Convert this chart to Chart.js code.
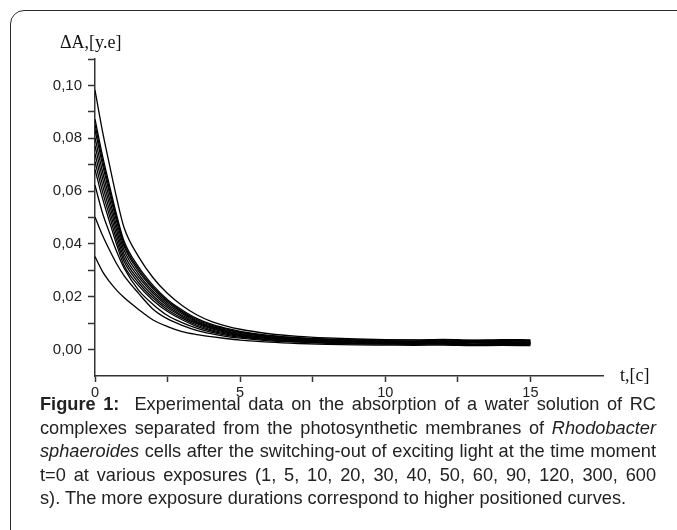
<!DOCTYPE html>
<html>
<head>
<meta charset="utf-8">
<script src="https://cdn.jsdelivr.net/npm/chart.js@4.4.1/dist/chart.umd.min.js"></script>
<style>
html, body { margin: 0; padding: 0; background: #fff; width: 677px; height: 530px; overflow: hidden; position: relative; }
#frame { position: absolute; left: 10px; top: 10px; width: 720px; height: 600px; border: 1.5px solid #2a2a2a; border-radius: 14px; }
#wrap { position: absolute; left: 0; top: 0; width: 677px; height: 400px; }
.lbl { position: absolute; font-family: "Liberation Serif", "Times New Roman", serif; font-size: 18px; color: #111; white-space: nowrap; }
#cap { position: absolute; left: 40px; top: 393px; width: 616px; font-family: "Liberation Sans", Arial, sans-serif; font-size: 18.2px; line-height: 23.5px; color: #222; }
#cap div { text-align: justify; text-align-last: justify; }
#cap div.last { text-align-last: left; }
</style>
</head>
<body>
<div id="frame"></div>
<div id="wrap"><canvas id="grafico" width="677" height="400"></canvas></div>
<div class="lbl" style="left:60px; top:32px;">ΔA,[y.e]</div>
<div class="lbl" style="left:620px; top:365px;">t,[c]</div>
<div id="cap">
  <div><b>Figure 1:</b>&nbsp; Experimental data on the absorption of a water solution of RC</div>
  <div>complexes separated from the photosynthetic membranes of <i>Rhodobacter</i></div>
  <div><i>sphaeroides</i> cells after the switching-out of exciting light at the time moment</div>
  <div>t=0 at various exposures (1, 5, 10, 20, 30, 40, 50, 60, 90, 120, 300, 600</div>
  <div class="last">s). The more exposure durations correspond to higher positioned curves.</div>
</div>
<script>
// tempo (s)
const tempos = [0, 0.25, 0.5, 0.75, 1, 1.5, 2, 2.5, 3, 3.5, 4, 4.5, 5, 6, 7, 8, 9, 10, 11, 12, 13, 14, 15];

// curvas, da mais baixa (1 s) para a mais alta (600 s)
const exp1   = [0.035, 0.0295, 0.0255, 0.0222, 0.0195, 0.0150, 0.0110, 0.0085, 0.0066, 0.0055, 0.0047, 0.0040, 0.0034, 0.0026, 0.0021, 0.0018, 0.0016, 0.0015, 0.0014, 0.0015, 0.0013, 0.0014, 0.0013];
const exp5   = [0.050, 0.0433, 0.0375, 0.0322, 0.0278, 0.0211, 0.0151, 0.0114, 0.0090, 0.0071, 0.0058, 0.0048, 0.0041, 0.0031, 0.0026, 0.0022, 0.0020, 0.0019, 0.0018, 0.0019, 0.0017, 0.0018, 0.0017];
const exp10  = [0.062, 0.0518, 0.0440, 0.0368, 0.0307, 0.0223, 0.0169, 0.0127, 0.0100, 0.0079, 0.0064, 0.0053, 0.0045, 0.0035, 0.0028, 0.0024, 0.0021, 0.0020, 0.0019, 0.0020, 0.0018, 0.0019, 0.0019];
const exp20  = [0.068, 0.0574, 0.0482, 0.0394, 0.0317, 0.0240, 0.0184, 0.0142, 0.0111, 0.0086, 0.0069, 0.0057, 0.0048, 0.0036, 0.0029, 0.0025, 0.0022, 0.0021, 0.0020, 0.0021, 0.0019, 0.0020, 0.0020];
const exp30  = [0.071, 0.0600, 0.0504, 0.0411, 0.0332, 0.0251, 0.0193, 0.0149, 0.0117, 0.0091, 0.0073, 0.0061, 0.0051, 0.0039, 0.0031, 0.0027, 0.0024, 0.0023, 0.0022, 0.0021, 0.0023, 0.0022, 0.0021];
const exp40  = [0.074, 0.0625, 0.0525, 0.0429, 0.0346, 0.0262, 0.0202, 0.0156, 0.0123, 0.0096, 0.0077, 0.0064, 0.0054, 0.0041, 0.0034, 0.0029, 0.0026, 0.0025, 0.0024, 0.0023, 0.0025, 0.0024, 0.0023];
const exp50  = [0.077, 0.0651, 0.0547, 0.0447, 0.0360, 0.0273, 0.0211, 0.0163, 0.0128, 0.0100, 0.0080, 0.0067, 0.0056, 0.0043, 0.0035, 0.0030, 0.0027, 0.0026, 0.0025, 0.0024, 0.0026, 0.0025, 0.0024];
const exp60  = [0.080, 0.0676, 0.0568, 0.0464, 0.0375, 0.0284, 0.0219, 0.0170, 0.0134, 0.0104, 0.0084, 0.0070, 0.0059, 0.0046, 0.0037, 0.0032, 0.0029, 0.0028, 0.0027, 0.0029, 0.0026, 0.0027, 0.0026];
const exp90  = [0.083, 0.0702, 0.0589, 0.0482, 0.0389, 0.0295, 0.0228, 0.0176, 0.0139, 0.0108, 0.0087, 0.0073, 0.0062, 0.0047, 0.0039, 0.0034, 0.0030, 0.0029, 0.0028, 0.0027, 0.0029, 0.0028, 0.0027];
const exp120 = [0.085, 0.0719, 0.0604, 0.0494, 0.0399, 0.0303, 0.0234, 0.0182, 0.0143, 0.0112, 0.0091, 0.0076, 0.0064, 0.0050, 0.0041, 0.0036, 0.0033, 0.0031, 0.0030, 0.0032, 0.0029, 0.0031, 0.0030];
const exp300 = [0.087, 0.0736, 0.0619, 0.0506, 0.0409, 0.0311, 0.0241, 0.0187, 0.0148, 0.0116, 0.0094, 0.0079, 0.0067, 0.0052, 0.0043, 0.0038, 0.0035, 0.0033, 0.0034, 0.0031, 0.0033, 0.0032, 0.0032];
const exp600 = [0.098, 0.0829, 0.0697, 0.0570, 0.0460, 0.0350, 0.0270, 0.0210, 0.0165, 0.0130, 0.0105, 0.0088, 0.0075, 0.0058, 0.0048, 0.0042, 0.0038, 0.0036, 0.0035, 0.0037, 0.0034, 0.0036, 0.0035];

const curvas = [exp1, exp5, exp10, exp20, exp30, exp40, exp50, exp60, exp90, exp120, exp300, exp600];

const ticksX = [0, 5, 10, 15];

new Chart(document.getElementById('grafico'), {
    type: 'line',
    data: {
        datasets: curvas.map(c => ({
            data: tempos.map((t, i) => ({ x: t, y: c[i] })),
            borderColor: '#000',
            borderWidth: 1.3,
            pointRadius: 0,
            fill: false,
            cubicInterpolationMode: 'monotone'
        }))
    },
    options: {
        responsive: false,
        animation: false,
        layout: { padding: { left: 0, top: 59, right: 74, bottom: 0 } },
        plugins: { legend: { display: false }, tooltip: { enabled: false } },
        scales: {
            x: {
                type: 'linear', min: 0, max: 17.5,
                afterFit: s => { s.height = 24; },
                ticks: {
                    stepSize: 2.5, autoSkip: false, maxRotation: 0, padding: 2, color: '#222',
                    font: { family: "'Liberation Sans', Arial, sans-serif", size: 14.5 },
                    callback: v => v > 15.01 ? null : (ticksX.includes(v) ? String(v) : '')
                },
                grid: { drawOnChartArea: false, tickLength: 6, tickColor: '#333', tickWidth: 1.5 },
                border: { color: '#333', width: 1.5 }
            },
            y: {
                type: 'linear', min: -0.0102, max: 0.1098,
                afterFit: s => { s.width = 95; },
                ticks: {
                    stepSize: 0.01, includeBounds: false, autoSkip: false, padding: 6, color: '#222',
                    font: { family: "'Liberation Sans', Arial, sans-serif", size: 15 },
                    callback: v => {
                        if (v < -0.001) return null;
                        const k = Math.round(v * 100);
                        return k % 2 === 0 ? (k / 100).toFixed(2).replace('.', ',') : '';
                    }
                },
                grid: { drawOnChartArea: false, tickLength: 7, tickColor: '#333', tickWidth: 1.5 },
                border: { color: '#333', width: 1.5 }
            }
        }
    }
});
</script>
</body>
</html>
